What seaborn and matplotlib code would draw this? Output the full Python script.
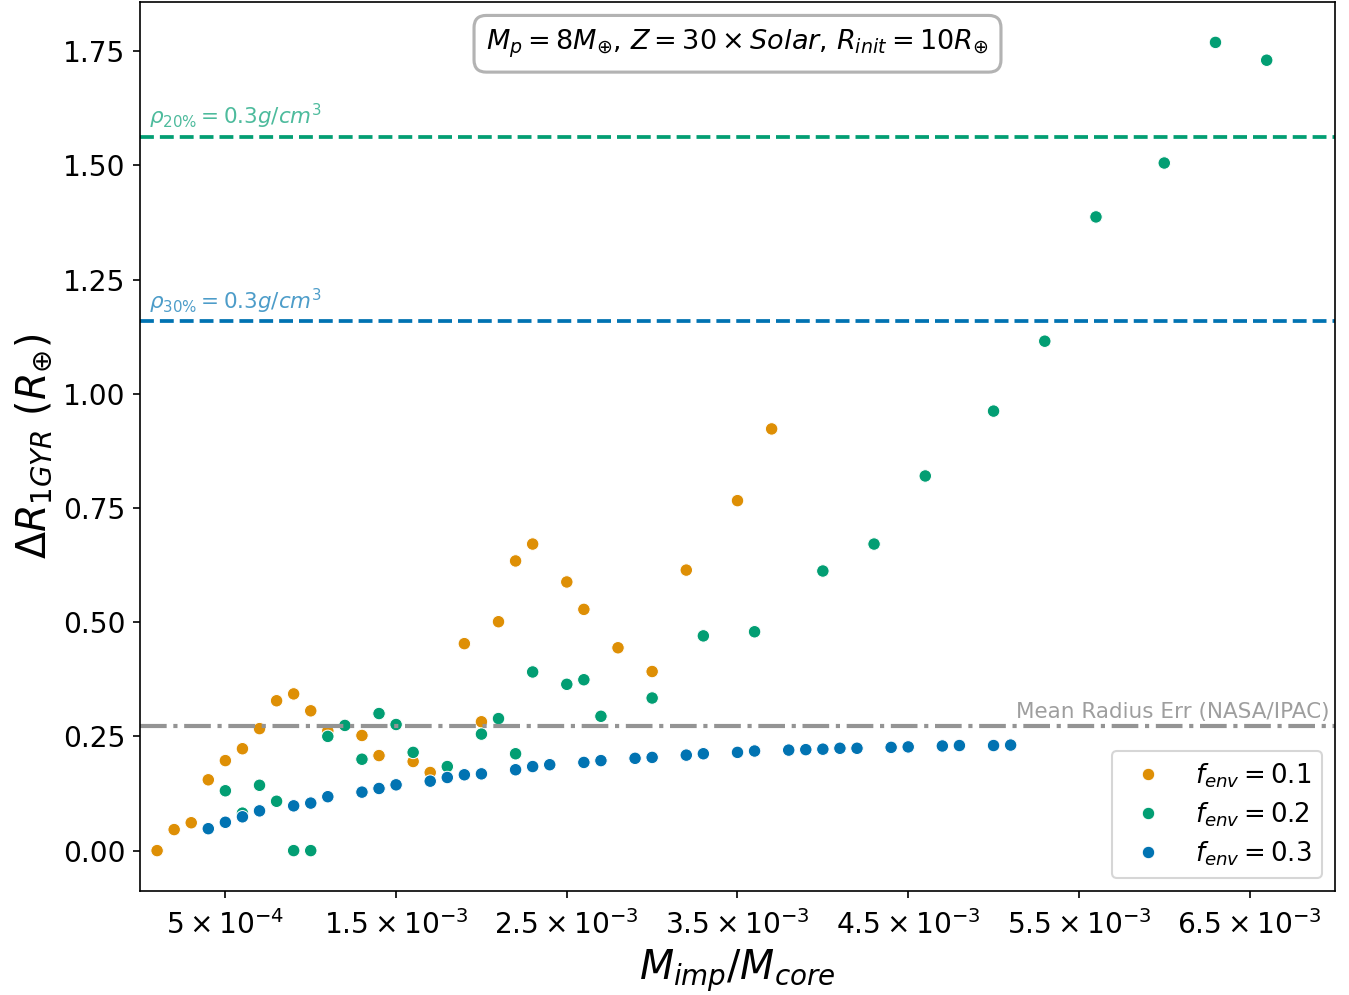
import numpy as np
import pandas as pd
import matplotlib
matplotlib.use("Agg")
import matplotlib.pyplot as plt
import seaborn as sns

# datos (x en unidades de 1e-4)
x_f01 = [1, 2, 3, 4, 5, 6, 7, 8, 9, 10, 11, 13, 14, 16, 17, 19, 20, 21, 22, 23, 25, 26, 28, 30, 32, 35, 37]
y_f01 = [0.000, 0.046, 0.061, 0.155, 0.197, 0.223, 0.267, 0.328, 0.343, 0.306, 0.262, 0.252, 0.208,
         0.195, 0.171, 0.453, 0.282, 0.501, 0.634, 0.671, 0.588, 0.528, 0.444, 0.392, 0.614, 0.766, 0.923]

x_f02 = [5, 6, 7, 8, 9, 10, 11, 12, 13, 14, 15, 16, 18, 20, 21, 22, 23, 25, 26, 27, 30, 33, 36, 40,
         43, 46, 50, 53, 56, 60, 63, 66]
y_f02 = [0.131, 0.082, 0.143, 0.108, 0.000, 0.000, 0.250, 0.274, 0.200, 0.300, 0.276, 0.215, 0.184,
         0.255, 0.289, 0.212, 0.391, 0.364, 0.374, 0.294, 0.334, 0.470, 0.479, 0.612, 0.671, 0.820,
         0.962, 1.115, 1.387, 1.505, 1.769, 1.730]

x_f03 = [4, 5, 6, 7, 9, 10, 11, 13, 14, 15, 17, 18, 19, 20, 22, 23, 24, 26, 27, 29, 30, 32, 33, 35,
         36, 38, 39, 40, 41, 42, 44, 45, 47, 48, 50, 51]
y_f03 = [0.048, 0.062, 0.074, 0.087, 0.098, 0.104, 0.118, 0.128, 0.136, 0.144, 0.152, 0.160, 0.166,
         0.168, 0.177, 0.184, 0.188, 0.193, 0.197, 0.202, 0.204, 0.209, 0.212, 0.215, 0.218, 0.220,
         0.221, 0.222, 0.224, 0.224, 0.226, 0.227, 0.229, 0.230, 0.230, 0.231]

labels = [r'$f_{env}=0.1$', r'$f_{env}=0.2$', r'$f_{env}=0.3$']
rho20 = 1.562
rho30 = 1.159
mean_err = 0.273
xticks = [5e-4, 1.5e-3, 2.5e-3, 3.5e-3, 4.5e-3, 5.5e-3, 6.5e-3]
xticklabels = [r'$5\times10^{-4}$', r'$1.5\times10^{-3}$', r'$2.5\times10^{-3}$', r'$3.5\times10^{-3}$',
               r'$4.5\times10^{-3}$', r'$5.5\times10^{-3}$', r'$6.5\times10^{-3}$']

cb = sns.color_palette("colorblind")
colores = {labels[0]: cb[1], labels[1]: cb[2], labels[2]: cb[0]}

df = pd.concat([
    pd.DataFrame({'x': np.array(x_f01) * 1e-4, 'y': y_f01, 'f': labels[0]}),
    pd.DataFrame({'x': np.array(x_f02) * 1e-4, 'y': y_f02, 'f': labels[1]}),
    pd.DataFrame({'x': np.array(x_f03) * 1e-4, 'y': y_f03, 'f': labels[2]}),
], ignore_index=True)

fig, ax = plt.subplots(figsize=(1349 / 150, 995 / 150), dpi=150)
fig.subplots_adjust(left=0.1038, right=0.9896, bottom=0.1045, top=0.998)

sns.scatterplot(data=df, x='x', y='y', hue='f', palette=colores, ax=ax)

# lineas de referencia
ax.axhline(rho20, color=cb[2], ls='--', lw=1.8)
ax.axhline(rho30, color=cb[0], ls='--', lw=1.8)
ax.axhline(mean_err, color=cb[7], ls='-.', lw=2)
ax.text(5e-5, rho20 + 0.012, r'$\rho_{20\%} = 0.3g/cm^3$', color=cb[2], alpha=0.7, fontsize=10.3, va='bottom')
ax.text(5e-5, rho30 + 0.012, r'$\rho_{30\%} = 0.3g/cm^3$', color=cb[0], alpha=0.7, fontsize=10.3, va='bottom')
ax.text(6.97e-3, mean_err + 0.008, 'Mean Radius Err (NASA/IPAC)', color=cb[7], alpha=0.9,
        fontsize=10.3, va='bottom', ha='right')

ax.text(0.5, 0.953, r'$M_p = 8M_{\oplus}$, $Z = 30\times Solar$, $R_{init} = 10R_{\oplus}$',
        transform=ax.transAxes, ha='center', va='center', fontsize=13,
        bbox=dict(boxstyle='round,pad=0.45', facecolor='white', edgecolor='0.7', lw=1.5))

ax.set_xlim(0, 7e-3)
ax.set_xticks(xticks)
ax.set_xticklabels(xticklabels)
ax.tick_params(labelsize=13.5)
ax.tick_params(axis='x', pad=5.5)
ax.set_xlabel(r'$M_{imp}/M_{core}$', fontsize=19)
ax.set_ylabel(r'$\Delta R_{1GYR}\ (R_{\oplus})$', fontsize=19)

sns.move_legend(ax, 'lower right', title=None, fontsize=12.5, labelspacing=0.4)

fig.savefig('out.png', dpi=150)
